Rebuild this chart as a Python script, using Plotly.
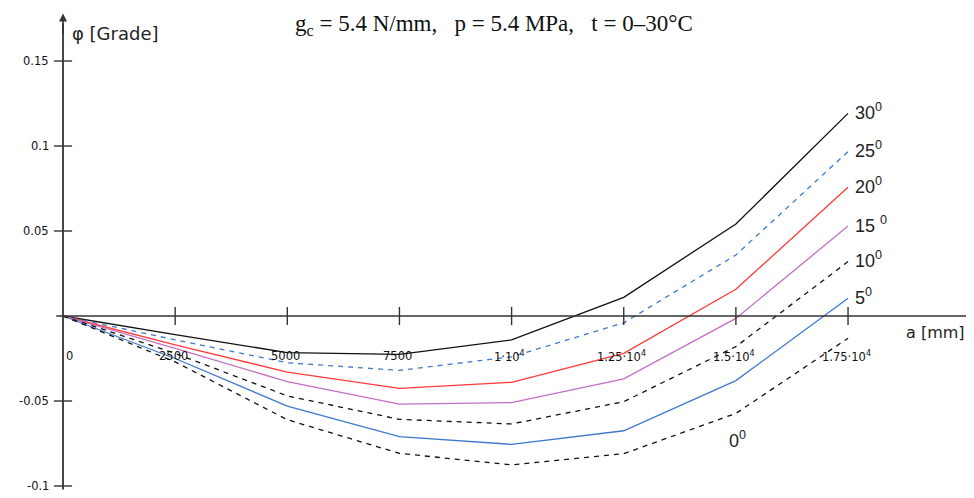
import plotly.graph_objects as go

# ---- data ----
a_mm = [0, 2500, 5000, 7500, 10000, 12500, 15000, 17500]
phi_30 = [0, -0.011, -0.0215, -0.0226, -0.0141, 0.011, 0.0541, 0.1192]
phi_25 = [0, -0.014, -0.0275, -0.032, -0.024, -0.004, 0.0359, 0.0967]
phi_20 = [0, -0.017, -0.033, -0.0426, -0.039, -0.022, 0.0157, 0.0757]
phi_15 = [0, -0.019, -0.0386, -0.0518, -0.051, -0.037, -0.0014, 0.0529]
phi_10 = [0, -0.022, -0.047, -0.0608, -0.0635, -0.0504, -0.018, 0.032]
phi_5 = [0, -0.025, -0.053, -0.071, -0.0755, -0.0675, -0.038, 0.0104]
phi_0 = [0, -0.027, -0.061, -0.0808, -0.0876, -0.081, -0.0573, -0.0131]

curve_labels = ["30<sup>0</sup>", "25<sup>0</sup>", "20<sup>0</sup>", "15 <sup>0</sup>",
                "10<sup>0</sup>", "5<sup>0</sup>", "0<sup>0</sup>"]

x_ticks = [0, 2500, 5000, 7500, 10000, 12500, 15000, 17500]
x_tick_labels = ["0", "2500", "5000", "7500", "1·10<sup>4</sup>", "1.25·10<sup>4</sup>",
                 "1.5·10<sup>4</sup>", "1.75·10<sup>4</sup>"]
y_ticks = [0.15, 0.1, 0.05, -0.05, -0.1]
y_tick_labels = ["0.15", "0.1", "0.05", "-0.05", "-0.1"]

BLUE = "#3d79cc"
RED = "#ff3a3a"
PURPLE = "#c36fc3"
BLACK = "#111111"

series = [
    (phi_30, BLACK, "solid"),
    (phi_25, BLUE, "5px,5px"),
    (phi_20, RED, "solid"),
    (phi_15, PURPLE, "solid"),
    (phi_10, BLACK, "5px,5px"),
    (phi_5, BLUE, "solid"),
    (phi_0, BLACK, "5px,5px"),
]

fig = go.Figure()

for ys, col, dash in series:
    fig.add_trace(go.Scatter(x=a_mm, y=ys, mode="lines",
                             line=dict(color=col, width=1.3, dash=dash),
                             showlegend=False, hoverinfo="skip"))

# axis lines
AX = "#333333"
fig.add_shape(type="line", x0=-150, x1=20130, y0=0, y1=0, line=dict(color=AX, width=1.6))
fig.add_shape(type="line", x0=0, x1=0, y0=-0.102, y1=0.172, line=dict(color=AX, width=1.8))
# arrow heads
fig.add_annotation(x=0, y=0.178, ax=0, ay=22, xref="x", yref="y", showarrow=True,
                   arrowhead=2, arrowsize=1, arrowwidth=1.6, arrowcolor=AX, text="")
fig.add_trace(go.Scatter(x=[20250], y=[0], mode="markers",
                         marker=dict(symbol="triangle-right", size=7, color=AX),
                         showlegend=False, hoverinfo="skip"))

# tick marks
fig.add_trace(go.Scatter(x=x_ticks[1:], y=[0] * (len(x_ticks) - 1), mode="markers",
                         marker=dict(symbol="line-ns", size=13, line=dict(color=AX, width=1.4)),
                         showlegend=False, hoverinfo="skip"))
fig.add_trace(go.Scatter(x=[0] * len(y_ticks), y=y_ticks, mode="markers",
                         marker=dict(symbol="line-ew", size=13, line=dict(color=AX, width=1.4)),
                         showlegend=False, hoverinfo="skip"))

TICKFONT = dict(family="DejaVu Sans", size=11.5, color="#111")
for xv, lab in zip(x_ticks, x_tick_labels):
    fig.add_annotation(x=xv, y=0, text=lab, showarrow=False, yshift=-40,
                       xanchor="left" if xv == 0 else "center",
                       xshift=1 if xv == 0 else -2, font=TICKFONT)
for yv, lab in zip(y_ticks, y_tick_labels):
    fig.add_annotation(x=0, y=yv, text=lab, showarrow=False, xanchor="right",
                       xshift=-12, font=TICKFONT)

# curve labels
LABFONT = dict(family="Liberation Sans", size=18, color="#222")
for (ys, col, dash), lab in zip(series[:-1], curve_labels[:-1]):
    fig.add_annotation(x=a_mm[-1], y=ys[-1], text=lab, showarrow=False,
                       xanchor="left", xshift=5, yshift=2, font=LABFONT)
fig.add_annotation(x=a_mm[-2], y=phi_0[-2], text=curve_labels[-1], showarrow=False,
                   xanchor="center", yshift=-26, xshift=2, font=LABFONT)

# axis titles
fig.add_annotation(x=0, y=0.166, text="φ [Grade]", showarrow=False, xanchor="left",
                   xshift=7, font=dict(family="DejaVu Sans", size=18, color="#222"))
fig.add_annotation(x=20150, y=0, text="a [mm]", showarrow=False, xanchor="right",
                   yshift=-16, font=dict(family="DejaVu Sans", size=16, color="#222"))

# title
NB = "\u00a0"
title = ("g<sub>c</sub> = 5.4 N/mm," + NB * 3 + "p = 5.4 MPa," + NB * 3 + "t = 0–30°C")
fig.add_annotation(x=(494 - 8) / 966, y=1 - (25 - 8) / 490, xref="paper", yref="paper",
                   text=title, showarrow=False, xanchor="center", yanchor="middle",
                   font=dict(family="Liberation Serif", size=23, color="#111"))

# page has an 8px body margin: figure spans page pixels 8..974 x 8..498
fig.update_layout(
    width=966, height=490,
    margin=dict(l=0, r=0, t=0, b=0),
    paper_bgcolor="white", plot_bgcolor="white",
    xaxis=dict(range=[-1226, 20308], visible=False, showgrid=False, zeroline=False),
    yaxis=dict(range=[-0.10706, 0.18118], visible=False, showgrid=False, zeroline=False),
    showlegend=False,
)

fig.write_html("out.html")
